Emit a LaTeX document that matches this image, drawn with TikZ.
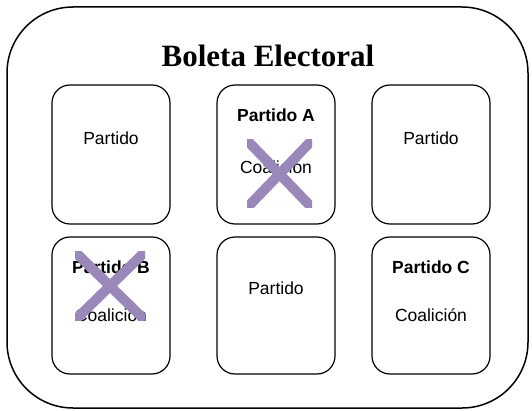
\documentclass[tikz,border=0pt]{standalone}
\usepackage{fontspec}
\setmainfont{Liberation Serif}
\newfontfamily\arialf{Liberation Sans}
\definecolor{xpurple}{RGB}{155,136,187}
\tikzset{
  ballot/.style={draw=black,line width=1.5pt,rounded corners=66pt},
  party/.style={draw=black,line width=1.2pt,rounded corners=18pt},
  ptext/.style={font=\arialf\fontsize{17.5}{20}\selectfont,inner sep=0pt},
  pbold/.style={font=\arialf\bfseries\fontsize{17.5}{20}\selectfont,inner sep=0pt},
  cross/.style={draw=xpurple,line width=10pt},
}
\begin{document}
\begin{tikzpicture}[x=1pt,y=-1pt]
\useasboundingbox (0,0) rectangle (532,411);
\draw[ballot] (7,7) rectangle (528,408);
\node[font=\bfseries\fontsize{31}{35}\selectfont,inner sep=0pt] (title) at (268,56) {Boleta Electoral};
% boxes
\draw[party] (52,85) rectangle (170,224);
\draw[party] (217,85) rectangle (335,224);
\draw[party] (372,85) rectangle (490,224);
\draw[party] (52,237) rectangle (170,374);
\draw[party] (217,237) rectangle (335,374);
\draw[party] (372,237) rectangle (490,374);
% texts
\node[ptext] (p1) at (111,138) {Partido};
\node[pbold] (pa) at (276,115) {Partido A};
\node[ptext] (ca) at (276,167) {Coalición};
\node[ptext] (p3) at (431,138) {Partido};
\node[pbold] (pb) at (111,267) {Partido B};
\node[ptext] (cb) at (111,315) {Coalición};
\node[ptext] (p5) at (276,288) {Partido};
\node[pbold] (pc) at (431,267) {Partido C};
\node[ptext] (cc) at (431,315) {Coalición};
% crosses
\begin{scope}
\clip (247,140) rectangle (312,208);
\coordinate (a1) at (240,133); \coordinate (a2) at (319,215);
\coordinate (a3) at (319,133); \coordinate (a4) at (240,215);
\draw[cross] (a1) -- (a2);
\draw[cross] (a3) -- (a4);
\end{scope}
\begin{scope}
\clip (75,252) rectangle (145,320);
\coordinate (b1) at (68,245); \coordinate (b2) at (152,327);
\coordinate (b3) at (152,245); \coordinate (b4) at (68,327);
\draw[cross] (b1) -- (b2);
\draw[cross] (b3) -- (b4);
\end{scope}
\end{tikzpicture}
\end{document}
